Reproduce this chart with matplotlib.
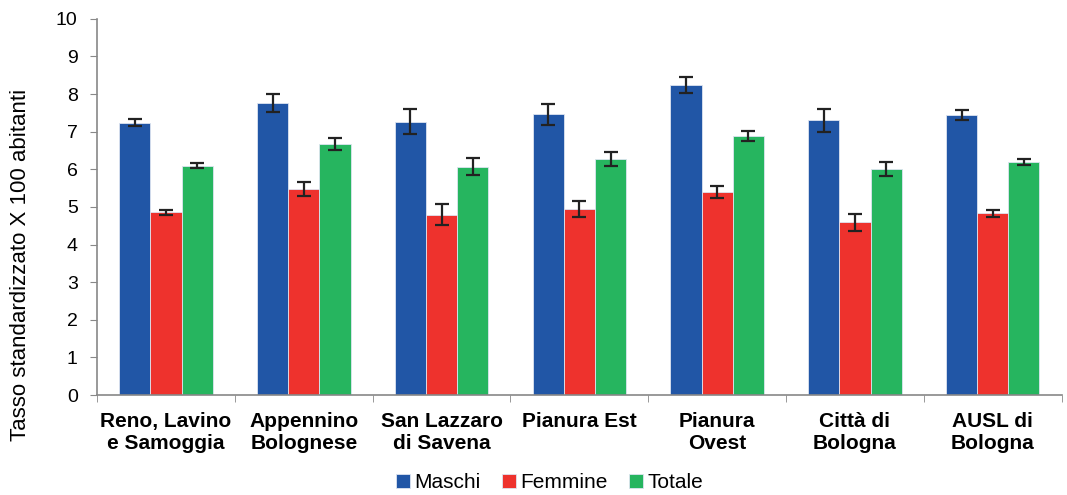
import matplotlib.pyplot as plt
import numpy as np

plt.rcParams['font.family'] = ['Liberation Sans', 'DejaVu Sans']

categories = ['Reno, Lavino\ne Samoggia', 'Appennino\nBolognese', 'San Lazzaro\ndi Savena',
              'Pianura Est', 'Pianura\nOvest', 'Città di\nBologna', 'AUSL di\nBologna']
maschi = [7.24, 7.76, 7.26, 7.46, 8.25, 7.30, 7.44]
maschi_err = [0.09, 0.25, 0.33, 0.28, 0.21, 0.30, 0.13]
femmine = [4.86, 5.48, 4.79, 4.95, 5.40, 4.59, 4.83]
femmine_err = [0.07, 0.19, 0.28, 0.21, 0.16, 0.23, 0.09]
totale = [6.10, 6.67, 6.07, 6.27, 6.89, 6.00, 6.19]
totale_err = [0.07, 0.15, 0.22, 0.18, 0.13, 0.19, 0.08]

series = [('Maschi', maschi, maschi_err, '#2156A6'),
          ('Femmine', femmine, femmine_err, '#EE322D'),
          ('Totale', totale, totale_err, '#26B55F')]

fig = plt.figure(figsize=(10.67, 4.95), dpi=100)
ax = fig.add_axes([0.091, 0.202, 0.904, 0.76])

x = np.arange(len(categories))
width = 0.226
for i, (name, vals, errs, color) in enumerate(series):
    ax.bar(x + (i - 1) * width, vals, width, color=color, edgecolor='#dde4f0', linewidth=0.6,
           label=name, yerr=errs, capsize=5,
           error_kw=dict(ecolor='#222222', elinewidth=1.6, capthick=1.6))

ax.set_xlim(-0.5, len(categories) - 0.5)
ax.set_ylim(0, 10)
ax.set_yticks(range(0, 11))
ax.tick_params(axis='y', labelsize=14, length=5, color='#888888', pad=9)
ax.set_xticks(x)
ax.set_xticklabels(categories, fontsize=15, fontweight='bold', linespacing=1.25)
ax.set_xticks(np.arange(-0.5, len(categories), 1), minor=True)
ax.tick_params(axis='x', which='major', length=0, pad=12)
ax.tick_params(axis='x', which='minor', length=5, color='#888888')

for side in ['top', 'right']:
    ax.spines[side].set_visible(False)
for side in ['left', 'bottom']:
    ax.spines[side].set_color('#888888')
    ax.spines[side].set_linewidth(1.2)

ax.set_ylabel('Tasso standardizzato X 100 abitanti', fontsize=16)
ax.yaxis.set_label_coords(-0.069, 0.345)

fig.legend(loc='lower center', bbox_to_anchor=(0.515, -0.032), ncol=3, frameon=False,
           fontsize=15, handlelength=0.7, handleheight=0.7, handletextpad=0.2, columnspacing=1.0)

fig.savefig('out.png', dpi=100)
